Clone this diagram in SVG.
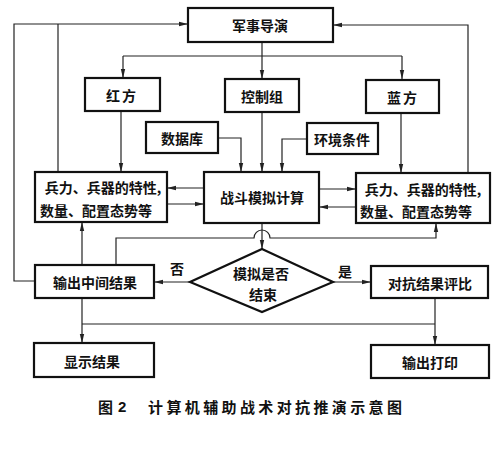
<svg xmlns="http://www.w3.org/2000/svg" width="500" height="455" viewBox="0 0 500 455">
<style>
.box{fill:#fff;stroke:#111;stroke-width:2.2}
.t{font-family:"Noto Sans CJK SC","Noto Sans CJK JP",sans-serif;font-size:14px;font-weight:bold;fill:#111;text-anchor:middle;dominant-baseline:central}
.c{fill:none;stroke:#222;stroke-width:1.2}
.a{marker-end:url(#arr)}
.lbl{font-family:"Noto Sans CJK SC",sans-serif;font-size:14px;font-weight:bold;fill:#111;text-anchor:middle;dominant-baseline:central}
.cap{font-family:"Noto Sans CJK SC",sans-serif;font-size:15px;font-weight:bold;fill:#111;dominant-baseline:central}
</style>
<defs>
<marker id="arr" markerUnits="userSpaceOnUse" markerWidth="9" markerHeight="6" refX="9" refY="3" orient="auto">
<path d="M0,0.8 L9,3 L0,5.2 Z" fill="#222"/>
</marker>
</defs>
<rect width="500" height="455" fill="#fff"/>
<g id="connectors">
<path class="c a" d="M35,281 H14 V24 H188"/>
<path class="c" d="M58,172 V24"/>
<path class="c a" d="M468,173 V25 H333"/>
<path class="c a" d="M262,42 V79"/>
<path class="c" d="M123,56 H402"/>
<path class="c a" d="M123,56 V78"/>
<path class="c a" d="M402,56 V79"/>
<path class="c a" d="M121,111 V172"/>
<path class="c a" d="M401,113 V173"/>
<path class="c a" d="M218,138 H241 V172"/>
<path class="c a" d="M262,112 V172"/>
<path class="c a" d="M307,139 H282 V172"/>
<path class="c a" d="M204,188 H167"/>
<path class="c a" d="M167,204 H204"/>
<path class="c a" d="M319,189 H356"/>
<path class="c a" d="M356,207 H319"/>
<path class="c a" d="M262,223 V249"/>
<path class="c a" d="M116,265 V238 H254 A8,8 0 0 1 270,238 H436 V223"/>
<path class="c a" d="M82,265 V222"/>
<path class="c a" d="M190,282 H154"/>
<path class="c a" d="M333,282 H371"/>
<path class="c a" d="M82,298 V343"/>
<path class="c a" d="M435,298 V345"/>
<path class="c" d="M82,324 H435"/>
</g>
<g id="n-director"><rect class="box" x="188" y="8" width="145" height="34"/><text class="t" x="260" y="25">军事导演</text></g>
<g id="n-red"><rect class="box" x="85" y="78" width="75" height="33"/><text class="t" x="122" y="95" letter-spacing="2">红方</text></g>
<g id="n-control"><rect class="box" x="225" y="79" width="74" height="33"/><text class="t" x="262" y="96">控制组</text></g>
<g id="n-blue"><rect class="box" x="366" y="80" width="73" height="33"/><text class="t" x="403" y="97" letter-spacing="2">蓝方</text></g>
<g id="n-db"><rect class="box" x="146" y="122" width="72" height="31"/><text class="t" x="182" y="138">数据库</text></g>
<g id="n-env"><rect class="box" x="307" y="123" width="71" height="31"/><text class="t" x="342" y="139">环境条件</text></g>
<g id="n-left-forces"><rect class="box" x="35" y="172" width="132" height="50"/><text class="t" x="103" y="187">兵力、兵器的特性,</text><text class="t" x="96" y="210">数量、配置态势等</text></g>
<g id="n-sim"><rect class="box" x="204" y="172" width="115" height="51"/><text class="t" x="262" y="197">战斗模拟计算</text></g>
<g id="n-right-forces"><rect class="box" x="356" y="173" width="134" height="50"/><text class="t" x="423" y="189">兵力、兵器的特性,</text><text class="t" x="416" y="211">数量、配置态势等</text></g>
<g id="n-mid"><rect class="box" x="35" y="265" width="119" height="33"/><text class="t" x="95" y="282">输出中间结果</text></g>
<g id="n-decision"><polygon class="box" points="262,249 333,282 262,312 190,282"/><text class="t" x="261" y="273">模拟是否</text><text class="t" x="263" y="294">结束</text></g>
<g id="n-eval"><rect class="box" x="371" y="266" width="117" height="32"/><text class="t" x="430" y="283">对抗结果评比</text></g>
<g id="n-show"><rect class="box" x="34" y="343" width="120" height="34"/><text class="t" x="92" y="361">显示结果</text></g>
<g id="n-print"><rect class="box" x="371" y="345" width="118" height="33"/><text class="t" x="430" y="362">输出打印</text></g>
<text class="lbl" x="177" y="268">否</text>
<text class="lbl" x="345" y="271">是</text>
<g id="caption">
<text class="cap" x="98" y="406">图</text>
<text class="cap" x="118" y="406" style="font-family:'Liberation Sans',sans-serif">2</text>
<text class="cap" x="148" y="406" textLength="254" lengthAdjust="spacing">计算机辅助战术对抗推演示意图</text>
</g>
</svg>
